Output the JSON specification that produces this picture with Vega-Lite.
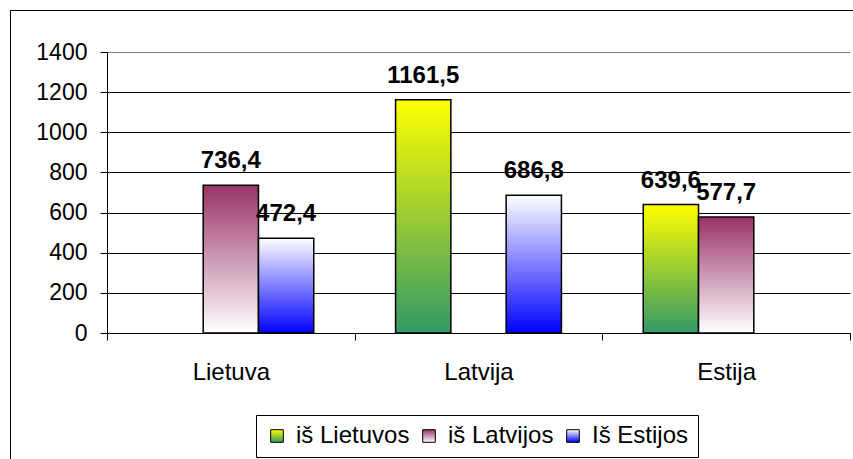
{
  "$schema": "https://vega.github.io/schema/vega-lite/v6.json",
  "autosize": {"type": "none"},
  "width": 860,
  "height": 470,
  "padding": {"left": 10, "top": 10, "right": -17, "bottom": -21},
  "background": "white",
  "config": {
    "view": {"stroke": "black", "strokeWidth": 1, "strokeDash": [860, 1330, 470]},
    "font": "Liberation Sans",
    "locale": {"number": {"decimal": ",", "thousands": " ", "grouping": [3], "currency": ["", ""]}}
  },
  "data": {
    "values": [
      {"country": "Lietuva", "series": "iš Latvijos", "value": 736.4},
      {"country": "Lietuva", "series": "Iš Estijos", "value": 472.4},
      {"country": "Latvija", "series": "iš Lietuvos", "value": 1161.5},
      {"country": "Latvija", "series": "Iš Estijos", "value": 686.8},
      {"country": "Estija", "series": "iš Lietuvos", "value": 639.6},
      {"country": "Estija", "series": "iš Latvijos", "value": 577.7}
    ]
  },
  "encoding": {
    "x": {
      "field": "country",
      "type": "nominal",
      "scale": {"domain": ["Lietuva", "Latvija", "Estija"], "range": [97, 840], "paddingInner": 0, "paddingOuter": 0},
      "axis": {
        "title": null,
        "orient": "bottom",
        "offset": -147,
        "labelAngle": 0,
        "tickBand": "extent",
        "domainColor": "black",
        "domainWidth": 1,
        "tickColor": "black",
        "tickSize": 7,
        "labelFont": "Liberation Sans",
        "labelFontSize": 24,
        "labelColor": "black",
        "labelPadding": 20,
        "grid": false
      }
    },
    "y": {
      "field": "value",
      "type": "quantitative",
      "scale": {"domain": [0, 1400], "range": [323, 42], "nice": false},
      "axis": {
        "title": null,
        "orient": "left",
        "offset": -97,
        "values": [0, 200, 400, 600, 800, 1000, 1200, 1400],
        "format": "d",
        "domainColor": "black",
        "tickColor": "black",
        "tickSize": 7,
        "labelFont": "Liberation Sans",
        "labelFontSize": 23,
        "labelColor": "black",
        "labelPadding": 13,
        "grid": true,
        "gridColor": {"condition": {"test": "datum.value === 1400", "value": "#808080"}, "value": "black"},
        "gridOpacity": 1,
        "gridWidth": 1
      }
    }
  },
  "layer": [
    {
      "mark": {"type": "point", "filled": true, "opacity": 0},
      "encoding": {
        "xOffset": {
          "field": "series",
          "type": "nominal",
          "scale": {"domain": ["iš Lietuvos", "iš Latvijos", "Iš Estijos"], "paddingInner": 0, "paddingOuter": 0.74}
        },
        "color": {"field": "series", "type": "nominal", "legend": null},
        "shape": {
          "field": "series",
          "type": "nominal",
          "scale": {"domain": ["iš Lietuvos", "iš Latvijos", "Iš Estijos"], "range": ["square", "square", "square"]},
          "legend": {
            "title": null,
            "orient": "none",
            "legendX": 246,
            "legendY": 405,
            "direction": "horizontal",
            "symbolType": "square",
            "symbolSize": 160,
            "symbolFillColor": {"expr": "datum.value === 'iš Lietuvos' ? {gradient: 'linear', x1: 0, y1: 0, x2: 0, y2: 1, stops: [{offset: 0, color: '#FFFF00'}, {offset: 1, color: '#339966'}]} : datum.value === 'iš Latvijos' ? {gradient: 'linear', x1: 0, y1: 0, x2: 0, y2: 1, stops: [{offset: 0, color: '#993366'}, {offset: 1, color: '#FFFFFF'}]} : {gradient: 'linear', x1: 0, y1: 0, x2: 0, y2: 1, stops: [{offset: 0, color: '#FFFFFF'}, {offset: 1, color: '#0000FF'}]}"},
            "symbolStrokeColor": "black",
            "symbolStrokeWidth": 1,
            "symbolOpacity": 1,
            "labelFont": "Liberation Sans",
            "labelFontSize": 24,
            "labelColor": "black",
            "labelOffset": 7,
            "columnPadding": 7,
            "padding": 9,
            "strokeColor": "black",
            "fillColor": "white"
          }
        }
      }
    },
    {
      "mark": {"type": "bar", "stroke": "black", "strokeWidth": 1.5},
      "encoding": {
        "xOffset": {"field": "series", "type": "nominal"},
        "fill": {
          "condition": [
            {"test": "datum.series === 'iš Lietuvos'", "value": {"gradient": "linear", "x1": 0, "y1": 0, "x2": 0, "y2": 1, "stops": [{"offset": 0, "color": "#FFFF00"}, {"offset": 1, "color": "#339966"}]}},
            {"test": "datum.series === 'iš Latvijos'", "value": {"gradient": "linear", "x1": 0, "y1": 0, "x2": 0, "y2": 1, "stops": [{"offset": 0, "color": "#993366"}, {"offset": 1, "color": "#FFFFFF"}]}}
          ],
          "value": {"gradient": "linear", "x1": 0, "y1": 0, "x2": 0, "y2": 1, "stops": [{"offset": 0, "color": "#FFFFFF"}, {"offset": 1, "color": "#0000FF"}]}
        }
      }
    },
    {
      "mark": {"type": "text", "baseline": "alphabetic", "dy": -17, "fontSize": 24, "fontWeight": "bold", "font": "Liberation Sans", "color": "black"},
      "encoding": {
        "xOffset": {"field": "series", "type": "nominal"},
        "text": {"field": "value", "type": "quantitative", "format": ".1f"}
      }
    },
    {
      "data": {"values": [{"edge": "right"}]},
      "mark": {"type": "rule", "color": "#808080", "strokeWidth": 1},
      "encoding": {
        "x": {"datum": "Estija", "bandPosition": 1},
        "y": {"datum": 0},
        "y2": {"datum": 1400}
      }
    }
  ]
}
